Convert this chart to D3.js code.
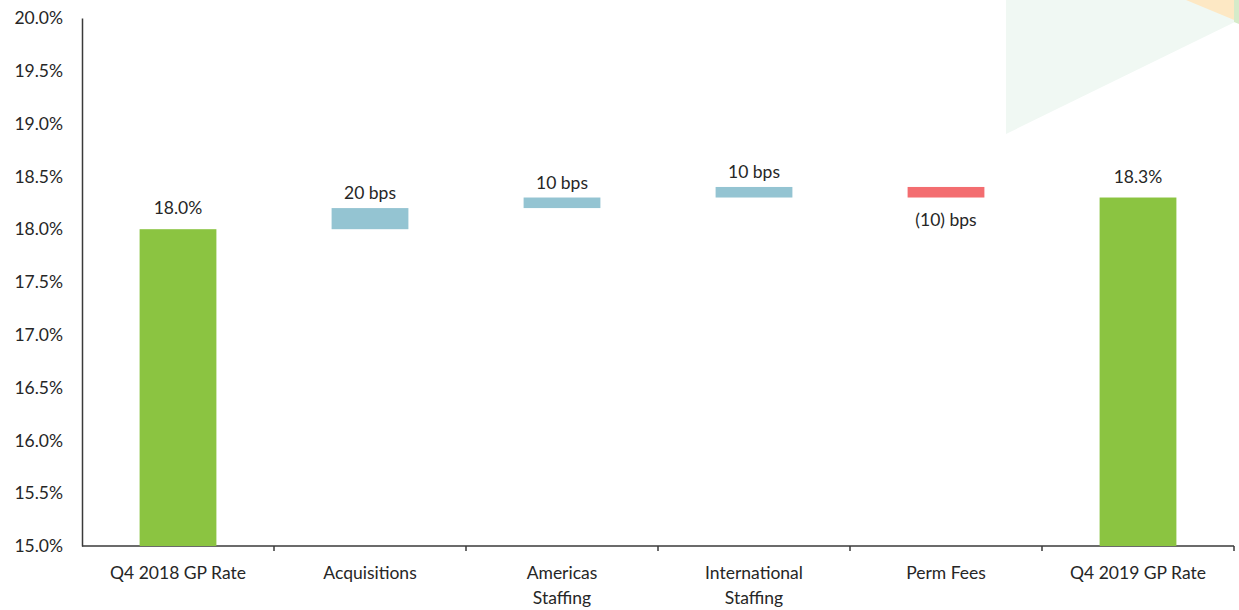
<!DOCTYPE html>
<html>
<head>
<meta charset="utf-8">
<script src="https://cdn.jsdelivr.net/npm/d3@7"></script>
<style>
  body { margin: 0; background: #fff; }
  text { font-family: Lato, "Open Sans", sans-serif; fill: #262626; }
</style>
</head>
<body>
<script>
// chart data
var categories = ["Q4 2018 GP Rate", "Acquisitions", "Americas Staffing", "International Staffing", "Perm Fees", "Q4 2019 GP Rate"];
var tickLines = [["Q4 2018 GP Rate"], ["Acquisitions"], ["Americas", "Staffing"], ["International", "Staffing"], ["Perm Fees"], ["Q4 2019 GP Rate"]];
var barKind = ["total", "up", "up", "up", "down", "total"];
var startRate = 18.0;
var changesBps = [0, 20, 10, 10, -10, 0];
var endRate = 18.3;
var barLabels = ["18.0%", "20 bps", "10 bps", "10 bps", "(10) bps", "18.3%"];
var yTicks = [15.0, 15.5, 16.0, 16.5, 17.0, 17.5, 18.0, 18.5, 19.0, 19.5, 20.0];

var svgWidth = 1239;
var svgHeight = 610;
var margin = { top: 18, right: 5, bottom: 64, left: 82 };
var chartWidth = svgWidth - margin.left - margin.right;
var chartHeight = svgHeight - margin.top - margin.bottom;
var fontSize = 17.5;

var colors = { total: "#8bc441", up: "#94c4d2", down: "#f36d70" };

var svg = d3.select("body")
  .append("svg")
  .attr("width", svgWidth)
  .attr("height", svgHeight);

// faint decoration, top right corner
svg.append("polygon")
  .attr("points", "1006,0 1239,0 1239,20 1006,134")
  .attr("fill", "#f0f8f3");
svg.append("polygon")
  .attr("points", "1186,0 1239,0 1239,22")
  .attr("fill", "#fde8c4");
svg.append("polygon")
  .attr("points", "1234,0 1239,0 1239,24 1234,22")
  .attr("fill", "#d6ebc9");

var chartGroup = svg.append("g")
  .attr("transform", `translate(${margin.left},${margin.top})`);

// build waterfall rows
var rows = [];
var running = startRate;
categories.forEach(function(c, i) {
  var lo, hi;
  if (barKind[i] === "total") {
    var v = i === 0 ? startRate : endRate;
    lo = 15.0; hi = v; running = v;
  } else {
    var next = running + changesBps[i] / 100;
    lo = Math.min(running, next); hi = Math.max(running, next);
    running = next;
  }
  rows.push({ cat: c, lo: lo, hi: hi, kind: barKind[i], label: barLabels[i] });
});

var x = d3.scaleBand()
  .domain(categories)
  .range([0, 1152])
  .paddingInner(0.6)
  .paddingOuter(0.3);

var y = d3.scaleLinear()
  .domain([15, 20])
  .range([chartHeight, 0]);

// axes
var leftAxis = d3.axisLeft(y)
  .tickValues(yTicks)
  .tickSize(0)
  .tickPadding(19)
  .tickFormat(function(d) { return d3.format(".1f")(d) + "%"; });

var yAxisG = chartGroup.append("g").call(leftAxis);
yAxisG.select(".domain").attr("stroke", "#3a3a3a").attr("stroke-width", 1.5);
yAxisG.selectAll("text").attr("font-size", fontSize).style("fill", "#262626");

var bottomAxis = d3.axisBottom(x).tickSize(0).tickFormat("");
var xAxisG = chartGroup.append("g")
  .attr("transform", `translate(0,${chartHeight})`)
  .call(bottomAxis);
xAxisG.select(".domain").attr("d", "M0,0H1152").attr("stroke", "#3a3a3a").attr("stroke-width", 1.5);

// tick marks at band boundaries
var boundaries = d3.range(1, categories.length + 1).map(function(i) { return i * 1152 / categories.length; });
xAxisG.selectAll(".bound")
  .data(boundaries)
  .enter().append("line")
  .attr("x1", function(d) { return d; })
  .attr("x2", function(d) { return d; })
  .attr("y1", 0).attr("y2", 5)
  .attr("stroke", "#3a3a3a").attr("stroke-width", 1.5);

// category labels
xAxisG.selectAll(".tick").each(function(d, i) {
  var t = d3.select(this).append("text")
    .attr("text-anchor", "middle")
    .attr("font-size", fontSize)
    .style("fill", "#262626")
    .attr("y", 33);
  tickLines[i].forEach(function(line, j) {
    t.append("tspan").attr("x", 0).attr("dy", j === 0 ? 0 : 25).text(line);
  });
});

// bars
chartGroup.selectAll(".bar")
  .data(rows)
  .enter().append("rect")
  .attr("x", function(d) { return x(d.cat); })
  .attr("width", x.bandwidth())
  .attr("y", function(d) { return y(d.hi); })
  .attr("height", function(d) { return y(d.lo) - y(d.hi); })
  .attr("fill", function(d) { return colors[d.kind]; });

// value labels
chartGroup.selectAll(".lbl")
  .data(rows)
  .enter().append("text")
  .attr("text-anchor", "middle")
  .attr("font-size", fontSize)
  .attr("x", function(d) { return x(d.cat) + x.bandwidth() / 2; })
  .attr("y", function(d) {
    if (d.kind === "down") return y(d.lo) + 28;
    return y(d.hi) - (d.kind === "total" ? 15 : 9);
  })
  .text(function(d) { return d.label; });
</script>
</body>
</html>
